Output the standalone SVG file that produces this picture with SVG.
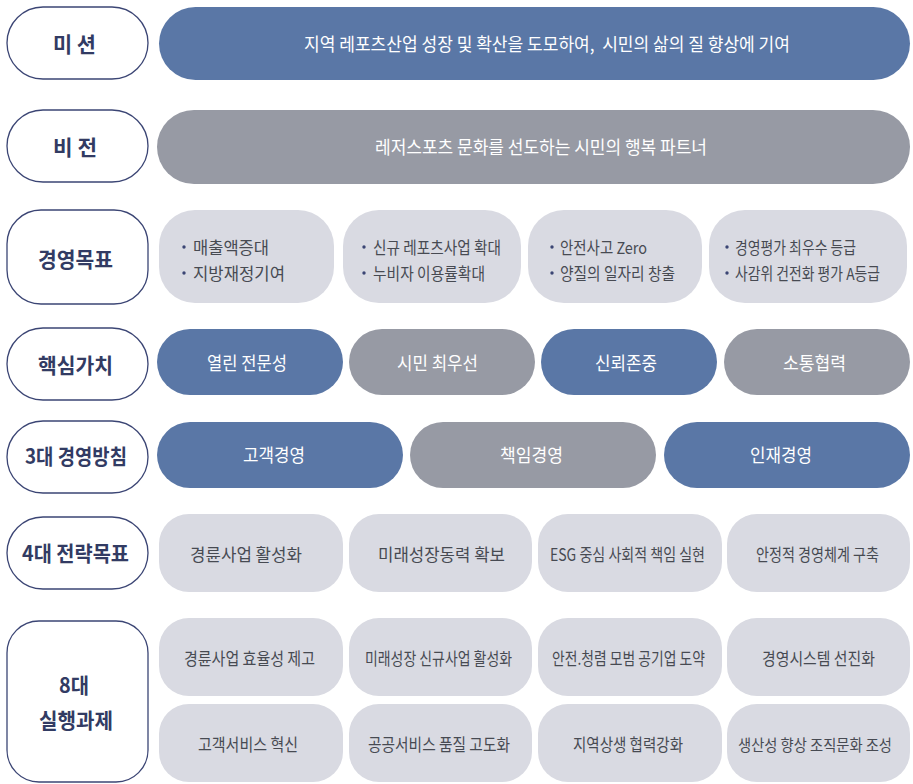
<svg xmlns="http://www.w3.org/2000/svg" width="913" height="784" viewBox="0 0 913 784">
<style>
.lab{fill:#ffffff;stroke:#3b4574;stroke-width:1.3}
.lt{font-family:"Noto Sans CJK KR","Noto Sans",sans-serif;font-size:21px;font-weight:700;fill:#323b63;text-anchor:middle}
.blue{fill:#5a77a6}
.gray{fill:#979aa4}
.card{fill:#d9dae2}
.wt{font-family:"Noto Sans CJK KR","Noto Sans",sans-serif;font-size:18px;fill:#ffffff;text-anchor:middle}
.ct{font-family:"Noto Sans CJK KR","Noto Sans",sans-serif;font-size:17px;fill:#474a52;text-anchor:middle}
.bt{font-family:"Noto Sans CJK KR","Noto Sans",sans-serif;font-size:16.5px;fill:#474a52}
.dot{fill:#3b4574}
</style>
<rect width="913" height="784" fill="#ffffff"/>

<g id="label-mission"><rect class="lab" x="7" y="7" width="141" height="72" rx="36"/><text class="lt" x="74.5" y="51.5" textLength="43" lengthAdjust="spacingAndGlyphs">미 션</text></g>
<g id="mission"><rect class="blue" x="159" y="7" width="751" height="73" rx="36.5"/><text class="wt" x="547" y="50.5" textLength="486" lengthAdjust="spacingAndGlyphs" xml:space="preserve">지역 레포츠산업 성장 및 확산을 도모하여,  시민의 삶의 질 향상에 기여</text></g>

<g id="label-vision"><rect class="lab" x="7" y="110" width="141" height="72" rx="36"/><text class="lt" x="75" y="155" textLength="44" lengthAdjust="spacingAndGlyphs">비 전</text></g>
<g id="vision"><rect class="gray" x="157" y="110" width="753" height="74" rx="37"/><text class="wt" x="541" y="154" textLength="332" lengthAdjust="spacingAndGlyphs">레저스포츠 문화를 선도하는 시민의 행복 파트너</text></g>

<g id="label-goal"><rect class="lab" x="7" y="210" width="141" height="94" rx="34"/><text class="lt" x="75.5" y="266.5" textLength="75" lengthAdjust="spacingAndGlyphs">경영목표</text></g>
<g id="goal-1"><rect class="card" x="159" y="210" width="175" height="93" rx="36"/><circle class="dot" cx="184" cy="247" r="1.7"/><circle class="dot" cx="184" cy="273" r="1.7"/><text class="bt" x="193" y="253.5" textLength="76" lengthAdjust="spacingAndGlyphs">매출액증대</text><text class="bt" x="193" y="279.5" textLength="92" lengthAdjust="spacingAndGlyphs">지방재정기여</text></g>
<g id="goal-2"><rect class="card" x="343" y="210" width="178" height="93" rx="36"/><circle class="dot" cx="364" cy="247" r="1.7"/><circle class="dot" cx="364" cy="273" r="1.7"/><text class="bt" x="373" y="253.5" textLength="128" lengthAdjust="spacingAndGlyphs">신규 레포츠사업 확대</text><text class="bt" x="373" y="279.5" textLength="112" lengthAdjust="spacingAndGlyphs">누비자 이용률확대</text></g>
<g id="goal-3"><rect class="card" x="528" y="210" width="174" height="93" rx="36"/><circle class="dot" cx="552" cy="247" r="1.7"/><circle class="dot" cx="552" cy="273" r="1.7"/><text class="bt" x="560" y="253.5" textLength="87" lengthAdjust="spacingAndGlyphs">안전사고 Zero</text><text class="bt" x="560" y="279.5" textLength="115" lengthAdjust="spacingAndGlyphs">양질의 일자리 창출</text></g>
<g id="goal-4"><rect class="card" x="709" y="210" width="198" height="93" rx="36"/><circle class="dot" cx="727" cy="247" r="1.7"/><circle class="dot" cx="727" cy="273" r="1.7"/><text class="bt" x="735" y="253.5" textLength="121" lengthAdjust="spacingAndGlyphs">경영평가 최우수 등급</text><text class="bt" x="735" y="279.5" textLength="145" lengthAdjust="spacingAndGlyphs">사감위 건전화 평가 A등급</text></g>

<g id="label-values"><rect class="lab" x="7" y="328" width="141" height="72" rx="36"/><text class="lt" x="75.5" y="373" textLength="75" lengthAdjust="spacingAndGlyphs">핵심가치</text></g>
<g id="value-1"><rect class="blue" x="157" y="329" width="186" height="66" rx="33"/><text class="wt" x="247" y="369.5" textLength="80" lengthAdjust="spacingAndGlyphs">열린 전문성</text></g>
<g id="value-2"><rect class="gray" x="349" y="329" width="186" height="66" rx="33"/><text class="wt" x="437.5" y="369.5" textLength="81" lengthAdjust="spacingAndGlyphs">시민 최우선</text></g>
<g id="value-3"><rect class="blue" x="541" y="329" width="176" height="66" rx="33"/><text class="wt" x="626" y="369.5" textLength="62" lengthAdjust="spacingAndGlyphs">신뢰존중</text></g>
<g id="value-4"><rect class="gray" x="724" y="329" width="186" height="66" rx="33"/><text class="wt" x="814.5" y="369.5" textLength="63" lengthAdjust="spacingAndGlyphs">소통협력</text></g>

<g id="label-policy"><rect class="lab" x="7" y="421" width="141" height="72" rx="36"/><text class="lt" x="76" y="464" textLength="102" lengthAdjust="spacingAndGlyphs">3대 경영방침</text></g>
<g id="policy-1"><rect class="blue" x="157" y="422" width="246" height="66" rx="33"/><text class="wt" x="274" y="461.5" textLength="62" lengthAdjust="spacingAndGlyphs">고객경영</text></g>
<g id="policy-2"><rect class="gray" x="410" y="422" width="246" height="66" rx="33"/><text class="wt" x="531.5" y="461.5" textLength="63" lengthAdjust="spacingAndGlyphs">책임경영</text></g>
<g id="policy-3"><rect class="blue" x="664" y="422" width="246" height="66" rx="33"/><text class="wt" x="781" y="461.5" textLength="62" lengthAdjust="spacingAndGlyphs">인재경영</text></g>

<g id="label-strategy"><rect class="lab" x="7" y="517" width="141" height="72" rx="36"/><text class="lt" x="75.5" y="561" textLength="107" lengthAdjust="spacingAndGlyphs">4대 전략목표</text></g>
<g id="strategy-1"><rect class="card" x="159" y="514" width="184" height="78" rx="30"/><text class="ct" x="246" y="561" textLength="112" lengthAdjust="spacingAndGlyphs">경륜사업 활성화</text></g>
<g id="strategy-2"><rect class="card" x="349" y="514" width="183" height="78" rx="30"/><text class="ct" x="441.5" y="561" textLength="127" lengthAdjust="spacingAndGlyphs">미래성장동력 확보</text></g>
<g id="strategy-3"><rect class="card" x="538" y="514" width="184" height="78" rx="30"/><text class="ct" x="627.5" y="561" textLength="155" lengthAdjust="spacingAndGlyphs">ESG 중심 사회적 책임 실현</text></g>
<g id="strategy-4"><rect class="card" x="727" y="514" width="183" height="78" rx="30"/><text class="ct" x="817.5" y="561" textLength="123" lengthAdjust="spacingAndGlyphs">안정적 경영체계 구축</text></g>

<g id="label-tasks"><rect class="lab" x="7" y="621" width="141" height="161" rx="32"/><text class="lt" x="74" y="692.5" textLength="30" lengthAdjust="spacingAndGlyphs">8대</text><text class="lt" x="76" y="727.5" textLength="74" lengthAdjust="spacingAndGlyphs">실행과제</text></g>
<g id="task-1"><rect class="card" x="159" y="618" width="184" height="78" rx="30"/><text class="ct" x="249.5" y="665" textLength="131" lengthAdjust="spacingAndGlyphs">경륜사업 효율성 제고</text></g>
<g id="task-2"><rect class="card" x="349" y="618" width="183" height="78" rx="30"/><text class="ct" x="438.5" y="665" textLength="147" lengthAdjust="spacingAndGlyphs">미래성장 신규사업 활성화</text></g>
<g id="task-3"><rect class="card" x="538" y="618" width="184" height="78" rx="30"/><text class="ct" x="628.5" y="665" textLength="153" lengthAdjust="spacingAndGlyphs">안전.청렴 모범 공기업 도약</text></g>
<g id="task-4"><rect class="card" x="727" y="618" width="183" height="78" rx="30"/><text class="ct" x="818.5" y="665" textLength="113" lengthAdjust="spacingAndGlyphs">경영시스템 선진화</text></g>
<g id="task-5"><rect class="card" x="159" y="704" width="184" height="78" rx="30"/><text class="ct" x="248" y="751" textLength="100" lengthAdjust="spacingAndGlyphs">고객서비스 혁신</text></g>
<g id="task-6"><rect class="card" x="349" y="704" width="183" height="78" rx="30"/><text class="ct" x="439" y="751" textLength="142" lengthAdjust="spacingAndGlyphs">공공서비스 품질 고도화</text></g>
<g id="task-7"><rect class="card" x="538" y="704" width="184" height="78" rx="30"/><text class="ct" x="628" y="751" textLength="110" lengthAdjust="spacingAndGlyphs">지역상생 협력강화</text></g>
<g id="task-8"><rect class="card" x="727" y="704" width="183" height="78" rx="30"/><text class="ct" x="815" y="750.5" style="font-size:15.5px" textLength="154" lengthAdjust="spacingAndGlyphs">생산성 향상 조직문화 조성</text></g>

<g id="connectors"></g>
</svg>
